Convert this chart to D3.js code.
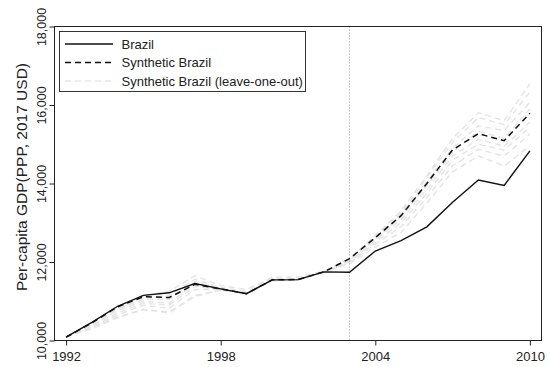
<!DOCTYPE html>
<html>
<head>
<meta charset="utf-8">
<script src="https://cdn.jsdelivr.net/npm/d3@7"></script>
<style>
  body { margin: 0; background: #fff; }
  svg { display: block; font-family: "Liberation Sans", Arial, sans-serif; }
</style>
</head>
<body>
<svg width="550" height="367"></svg>
<script>
// data
var years = [1992, 1993, 1994, 1995, 1996, 1997, 1998, 1999, 2000, 2001,
             2002, 2003, 2004, 2005, 2006, 2007, 2008, 2009, 2010];
var brazil = [10085, 10460, 10872, 11150, 11215, 11450, 11316, 11192, 11545, 11552,
              11748, 11738, 12280, 12545, 12895, 13520, 14090, 13950, 14830];
var synthetic = [10085, 10450, 10860, 11115, 11095, 11430, 11316, 11192, 11545, 11552,
                 11748, 12085, 12620, 13180, 14000, 14860, 15270, 15090, 15790];
// leave-one-out synthetic controls
var looA = [10085, 10450, 10850, 11150, 11250, 11650, 11400, 11300, 11610, 11620,
            11760, 12080, 12680, 13300, 14200, 15150, 15800, 15600, 16540];
var looB = [10085, 10430, 10820, 11100, 11150, 11560, 11350, 11250, 11580, 11580,
            11750, 12060, 12650, 13250, 14150, 15050, 15680, 15500, 16330];
var looC = [10085, 10420, 10800, 11050, 11050, 11500, 11330, 11220, 11560, 11560,
            11745, 12050, 12620, 13200, 14050, 14900, 15470, 15350, 16070];
var looD = [10085, 10400, 10760, 11000, 10950, 11450, 11320, 11200, 11540, 11550,
            11744, 12040, 12600, 13150, 13950, 14800, 15330, 15150, 15900];
var looE = [10085, 10380, 10700, 10950, 10900, 11380, 11300, 11190, 11530, 11545,
            11744, 12020, 12550, 13080, 13850, 14700, 15130, 14950, 15560];
var looF = [10085, 10350, 10650, 10900, 10820, 11300, 11300, 11200, 11540, 11550,
            11744, 12000, 12500, 13000, 13750, 14600, 15000, 14850, 15430];
var looG = [10085, 10320, 10600, 10780, 10730, 11120, 11290, 11200, 11530, 11550,
            11744, 11980, 12450, 12900, 13650, 14450, 14870, 14700, 15260];
var looH = [10085, 10300, 10580, 10800, 10700, 11150, 11280, 11190, 11520, 11540,
            11744, 11950, 12380, 12750, 13500, 14300, 14700, 14450, 14960];
var looSeries = [looA, looB, looC, looD, looE, looF, looG, looH];

var xTicks = [1992, 1998, 2004, 2010];
var yTicks = [10000, 12000, 14000, 16000, 18000];
var treatYear = 2003;
var legendLabels = ["Brazil", "Synthetic Brazil", "Synthetic Brazil (leave-one-out)"];

var svg = d3.select("svg");
var plotL = 54.5, plotR = 541.5, plotT = 26.5, plotB = 340.5;

var x = d3.scaleLinear().domain([1991.55, 2010.45]).range([plotL, plotR]);
var y = d3.scaleLinear().domain([10000, 18000]).range([plotB, plotT]);

var line = d3.line()
    .x(function(d, i) { return x(years[i]); })
    .y(function(d) { return y(d); });

// grey leave-one-out lines first
svg.selectAll("path.loo")
    .data(looSeries)
  .enter().append("path")
    .attr("class", "loo")
    .attr("d", line)
    .attr("fill", "none")
    .attr("stroke", "#e4e4e4")
    .attr("stroke-width", 1.4)
    .attr("stroke-dasharray", "6,4");

// treatment year
svg.append("line")
    .attr("x1", x(treatYear)).attr("x2", x(treatYear))
    .attr("y1", plotT).attr("y2", plotB)
    .attr("stroke", "#999")
    .attr("stroke-width", 1)
    .attr("stroke-dasharray", "1,2");

svg.append("path")
    .attr("d", line(synthetic))
    .attr("fill", "none")
    .attr("stroke", "#111")
    .attr("stroke-width", 1.5)
    .attr("stroke-dasharray", "6,4");

svg.append("path")
    .attr("d", line(brazil))
    .attr("fill", "none")
    .attr("stroke", "#111")
    .attr("stroke-width", 1.4);

// axes
var xAxis = svg.append("g")
    .attr("transform", "translate(0," + plotB + ")")
    .call(d3.axisBottom(x).tickValues(xTicks).tickSize(5).tickFormat(d3.format("d")));
xAxis.select(".domain").remove();
xAxis.selectAll("text")
    .attr("y", 20).attr("dy", null)
    .attr("font-size", 13)
    .attr("fill", "#222");

var yAxis = svg.append("g")
    .attr("transform", "translate(" + plotL + ",0)")
    .call(d3.axisLeft(y).tickValues(yTicks).tickSize(5).tickFormat(d3.format(",")));
yAxis.select(".domain").remove();
yAxis.selectAll("text")
    .attr("transform", "rotate(-90)")
    .attr("x", 0).attr("y", -9).attr("dy", null)
    .attr("text-anchor", "middle")
    .attr("font-size", 12.5)
    .attr("fill", "#222");
svg.selectAll(".tick line").attr("stroke", "#222");

// frame
svg.append("rect")
    .attr("x", plotL).attr("y", plotT)
    .attr("width", plotR - plotL).attr("height", plotB - plotT)
    .attr("fill", "none")
    .attr("stroke", "#222")
    .attr("stroke-width", 1);

svg.append("text")
    .attr("transform", "translate(27," + 177 + ") rotate(-90)")
    .attr("text-anchor", "middle")
    .attr("font-size", 15.5)
    .attr("fill", "#222")
    .text("Per-capita GDP(PPP, 2017 USD)");

// legend
var legend = svg.append("g");
legend.append("rect")
    .attr("x", 59.5).attr("y", 31.5)
    .attr("width", 246).attr("height", 60)
    .attr("fill", "#fff")
    .attr("stroke", "#333");

var legendStyles = [
  { stroke: "#111", dash: null },
  { stroke: "#111", dash: "6,4" },
  { stroke: "#e8e8e8", dash: "6,4" }
];
var row = legend.selectAll("g.row")
    .data(legendLabels)
  .enter().append("g")
    .attr("class", "row")
    .attr("transform", function(d, i) { return "translate(0," + (44 + i * 18.5) + ")"; });
row.append("line")
    .attr("x1", 65).attr("x2", 113)
    .attr("stroke", function(d, i) { return legendStyles[i].stroke; })
    .attr("stroke-width", 1.5)
    .attr("stroke-dasharray", function(d, i) { return legendStyles[i].dash; });
row.append("text")
    .attr("x", 121.5).attr("y", 4.5)
    .attr("font-size", 13)
    .attr("fill", "#222")
    .text(function(d) { return d; });
</script>
</body>
</html>
